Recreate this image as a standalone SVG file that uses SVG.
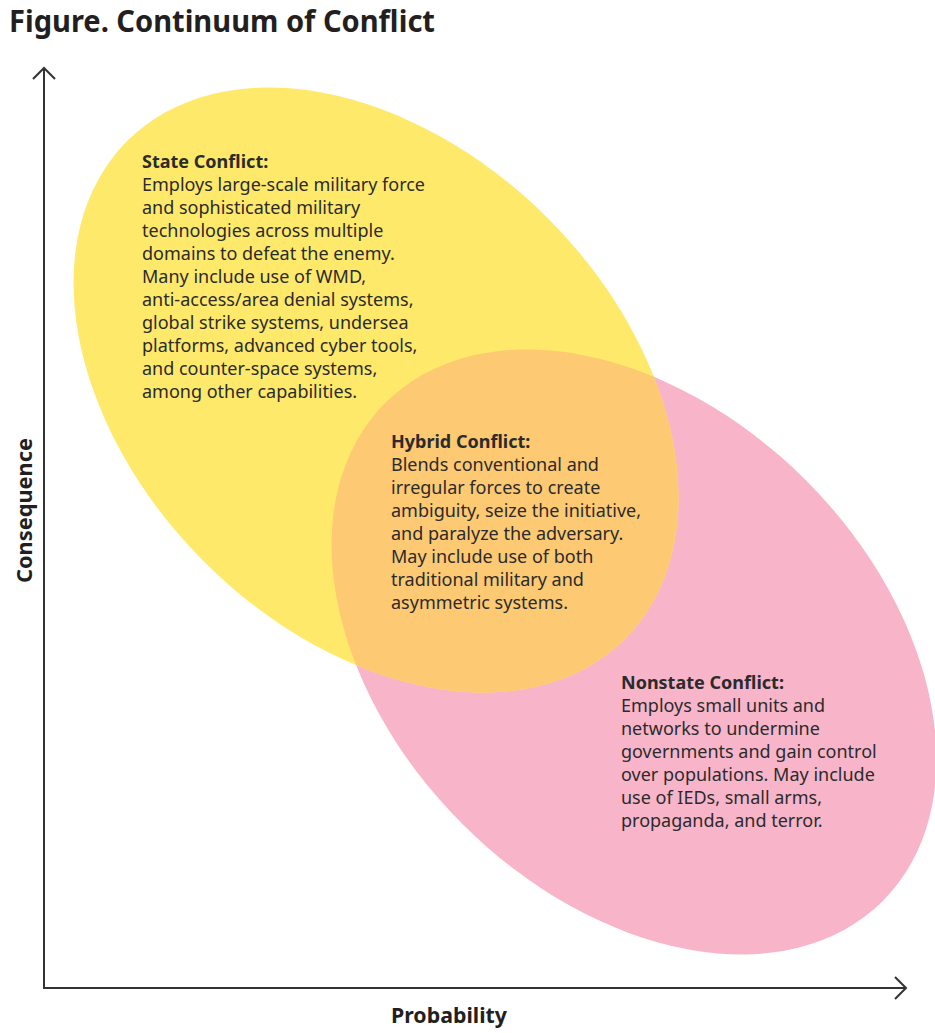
<svg xmlns="http://www.w3.org/2000/svg" width="935" height="1033" viewBox="0 0 935 1033">
<style>
.body{font-family:"Noto Sans",Lato,sans-serif;font-size:18px;fill:#2b2b2b}
.head{font-family:"Noto Sans",Lato,sans-serif;font-size:18px;font-weight:bold;fill:#2b2b2b}
.title{font-family:"Noto Sans",Lato,sans-serif;font-size:29.5px;font-weight:bold;fill:#231f20}
.axlabel{font-family:"Noto Sans",Lato,sans-serif;font-size:22px;font-weight:bold;fill:#231f20}
.axis{stroke:#333;stroke-width:2;fill:none}
</style>
<defs>
<marker id="chev" viewBox="-14 -13 16 26" refX="0" refY="0" markerWidth="16" markerHeight="26" markerUnits="userSpaceOnUse" orient="auto">
<path d="M-11,-11 L0,0 L-11,11" fill="none" stroke="#333" stroke-width="2"/>
</marker>
<clipPath id="pinkclip">
<ellipse cx="634" cy="652" rx="352" ry="243" transform="rotate(45 634 652)"/>
</clipPath>
</defs>
<rect width="935" height="1033" fill="#fff"/>
<text class="title" x="9" y="32" textLength="426" lengthAdjust="spacingAndGlyphs">Figure. Continuum of Conflict</text>

<g id="nonstate">
<ellipse cx="634" cy="652" rx="352" ry="243" transform="rotate(45 634 652)" fill="#f8b5ca"/>
</g>
<g id="state">
<ellipse cx="376" cy="390" rx="352" ry="243" transform="rotate(45 376 390)" fill="#fee96b"/>
</g>
<g id="hybrid" clip-path="url(#pinkclip)">
<ellipse cx="376" cy="390" rx="352" ry="243" transform="rotate(45 376 390)" fill="#fdc973"/>
</g>

<g id="state-text">
<text class="head" x="142" y="168">State Conflict:</text>
<text class="body" x="142" y="191">Employs large-scale military force</text>
<text class="body" x="142" y="214">and sophisticated military</text>
<text class="body" x="142" y="237">technologies across multiple</text>
<text class="body" x="142" y="260">domains to defeat the enemy.</text>
<text class="body" x="142" y="283">Many include use of WMD,</text>
<text class="body" x="142" y="306">anti-access/area denial systems,</text>
<text class="body" x="142" y="329">global strike systems, undersea</text>
<text class="body" x="142" y="352">platforms, advanced cyber tools,</text>
<text class="body" x="142" y="375">and counter-space systems,</text>
<text class="body" x="142" y="398">among other capabilities.</text>
</g>

<g id="hybrid-text">
<text class="head" x="391" y="448">Hybrid Conflict:</text>
<text class="body" x="391" y="471">Blends conventional and</text>
<text class="body" x="391" y="494">irregular forces to create</text>
<text class="body" x="391" y="517">ambiguity, seize the initiative,</text>
<text class="body" x="391" y="540">and paralyze the adversary.</text>
<text class="body" x="391" y="563">May include use of both</text>
<text class="body" x="391" y="586">traditional military and</text>
<text class="body" x="391" y="609">asymmetric systems.</text>
</g>

<g id="nonstate-text">
<text class="head" x="621" y="689">Nonstate Conflict:</text>
<text class="body" x="621" y="712">Employs small units and</text>
<text class="body" x="621" y="735">networks to undermine</text>
<text class="body" x="621" y="758">governments and gain control</text>
<text class="body" x="621" y="781">over populations. May include</text>
<text class="body" x="621" y="804">use of IEDs, small arms,</text>
<text class="body" x="621" y="827">propaganda, and terror.</text>
</g>

<g id="connectors">
<line class="axis" x1="44" y1="988" x2="44" y2="68" marker-end="url(#chev)"/>
<line class="axis" x1="43" y1="988" x2="906" y2="988" marker-end="url(#chev)"/>
</g>

<text class="axlabel" x="391" y="1023" textLength="116" lengthAdjust="spacingAndGlyphs">Probability</text>
<text class="axlabel" transform="translate(32 583) rotate(-90)" x="0" y="0" textLength="145" lengthAdjust="spacingAndGlyphs">Consequence</text>
</svg>
